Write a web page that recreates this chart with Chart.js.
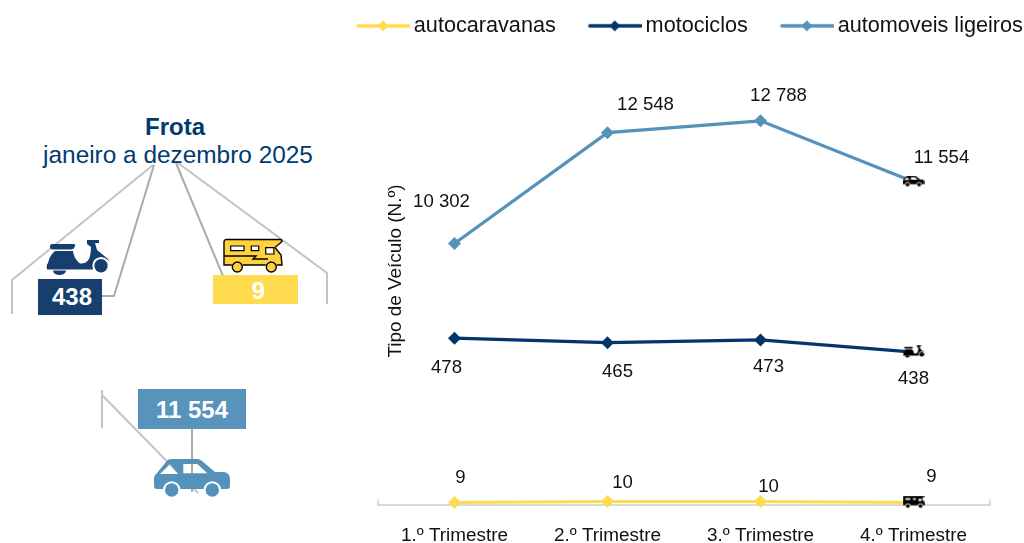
<!DOCTYPE html>
<html lang="pt">
<head>
<meta charset="utf-8">
<title>Frota</title>
<script src="https://cdn.jsdelivr.net/npm/chart.js@4"></script>
<style>
  html, body { margin: 0; padding: 0; background: #fff; overflow: hidden; }
  body { position: relative; width: 1024px; height: 543px; font-family: "Liberation Sans", Arial, sans-serif; }
  svg, canvas { position: absolute; left: 0; top: 0; }
  .t { position: absolute; text-align: center; white-space: nowrap; }
  .title { width: 350px; color: #003A70; font-size: 24.4px; line-height: 28px; }
  .box { color: #fff; font-weight: bold; font-size: 24px; display: flex; align-items: center; justify-content: center; box-sizing: border-box; }
</style>
</head>
<body>
<!-- painel esquerdo: linhas, ícones e caixas -->
<svg width="1024" height="543" viewBox="0 0 1024 543">
  <g fill="none" stroke-width="2">
    <polyline stroke="#C4C4C4" points="12,314 12,280 153,165"/>
    <polyline stroke="#ABABAB" points="154,165 114,296 102,296"/>
    <polyline stroke="#ABABAB" points="176,163 223,276"/>
    <polyline stroke="#C4C4C4" points="178,163 327,273 327,304"/>
    <polyline stroke="#C4C4C4" points="102,428 102,390"/>
    <polyline stroke="#C4C4C4" points="102,395 198,493"/>
    <polyline stroke="#ABABAB" points="192,428 192,492"/>
  </g>
  <g id="scooterBig" transform="translate(45,239)"></g>
  <g id="rvBig" transform="translate(223,239)"></g>
  <g id="carBig" transform="translate(154,459)"></g>
</svg>
<div class="t title" style="left:0;top:113px;font-weight:bold;font-size:24px">Frota</div>
<div class="t title" style="left:3px;top:141px">janeiro a dezembro 2025</div>
<div class="t box" style="left:38px;top:279px;width:64px;height:36px;padding-left:4px;background:#173F6E">438</div>
<div class="t box" style="left:213px;top:275px;width:85px;height:29px;padding-left:6px;padding-top:3px;background:#FFDC4F">9</div>
<div class="t box" style="left:138px;top:389px;width:108px;height:40px;padding-top:2px;background:#5793BB">11 554</div>
<canvas id="chart" width="1024" height="543"></canvas>
<script>
// Frota por trimestre. Cada série tem escala própria (eixo quebrado no original).
const trimestres = ['1.º Trimestre', '2.º Trimestre', '3.º Trimestre', '4.º Trimestre'];
const autocaravanas = [9, 10, 10, 9];
const motociclos = [478, 465, 473, 438];
const ligeiros = [10302, 12548, 12788, 11554];

const COR_CARAVANA = '#FFDC4F';
const COR_MOTO = '#03356C';
const COR_LIGEIRO = '#5592BA';
const FONTE = '"Liberation Sans", Arial, sans-serif';

// deslocamento (px) de cada rótulo em relação ao ponto
const OFFS_CARAVANA = [[6, -25], [15, -19], [8, -15], [18, -26]];
const OFFS_MOTO = [[-8, 30], [10, 29], [8, 27], [0, 27]];
const OFFS_LIGEIRO = [[-13, -42], [38, -28], [18, -25], [28, -24]];

// ícones: silhueta em caminho SVG, reutilizada no painel e nos pontos finais
const SCOOTER = { w: 64, h: 36,
  body: 'M7 5H28Q31 5 30 7Q29 10.5 26 10.5H8Q5 10.5 5 8Q5 5 7 5ZM10 12H28Q29 20 35 24.5Q41 25 44 20Q46 15 46 8L42 5V1H54V4H50L52 11L63 20Q64 22 63 22Q58 18 53 20Q48 24 48 30.5H2Q1 26 3 24Q4 17 10 12ZM8 31.5H21A6.5 4.5 0 0 1 8 31.5Z',
  wheels: [[56, 26.7, 6.7]] };
const RV = { w: 59, h: 34,
  body: 'M1 3Q1 .5 3.5 .5H57Q59 .5 59 2.5L52 8.5L58 16L59 26H1Z',
  wheels: [[14.3, 28, 5], [48.3, 28, 5]],
  windows: ['M7.7 7H21V11.7H7.7Z', 'M28.3 7H35.7V11.7H28.3Z', 'M42.7 8.7H50.7L51 15H42.7Z'] };
const CAR = { w: 77, h: 38,
  body: 'M0 19Q0 16 3 14L12 3Q14 0 18 0H43Q46 0 48 2L61 13H70Q76 14 76 20V27Q76 30 73 30H3Q0 30 0 27Z',
  windows: ['M6 15H24.3L16 5Z', 'M29.3 5H43.3L53.3 14.3H29.3Z'],
  wheels: [[17.7, 31, 6.7], [58.3, 31, 6.7]] };

function desenhaGrande(id, ic, cor, traco) {
  const ns = 'http://www.w3.org/2000/svg';
  const g = document.getElementById(id);
  const add = (tag, attrs) => {
    const el = document.createElementNS(ns, tag);
    Object.keys(attrs).forEach((k) => el.setAttribute(k, attrs[k]));
    g.appendChild(el);
  };
  // no carro as janelas são vazadas: as linhas cinzentas veem-se através delas
  const d = ic.body + (ic === CAR ? ic.windows.join('') : '');
  add('path', { d, fill: cor, 'fill-rule': 'evenodd', stroke: traco || 'none', 'stroke-width': 1.4 });
  if (ic !== CAR) (ic.windows || []).forEach((w) => add('path', { d: w, fill: '#fff', stroke: '#000', 'stroke-width': 1.2 }));
  if (ic === RV) add('path', { d: 'M1 17H33L30 20H45', fill: 'none', stroke: '#000', 'stroke-width': 1.4 });
  ic.wheels.forEach((w) => {
    add('circle', { cx: w[0], cy: w[1], r: w[2] + (traco ? 1 : 2), fill: '#fff' });
    add('circle', { cx: w[0], cy: w[1], r: w[2], fill: cor, stroke: traco || 'none', 'stroke-width': 1.4 });
  });
}
desenhaGrande('scooterBig', SCOOTER, '#173F6E');
desenhaGrande('rvBig', RV, '#FFD23C', '#000');
desenhaGrande('carBig', CAR, COR_LIGEIRO);

// mesma silhueta em preto, 22 px de largura, para o último ponto de cada linha
function miniIcone(ic) {
  const k = 22 / ic.w;
  const c = document.createElement('canvas');
  c.width = 22;
  c.height = Math.ceil(ic.h * k) + 1;
  const x = c.getContext('2d');
  x.scale(k, k);
  x.fillStyle = '#000';
  x.fill(new Path2D(ic.body));
  x.fillStyle = '#fff';
  (ic.windows || []).forEach((w) => x.fill(new Path2D(w)));
  ic.wheels.forEach((w) => {
    x.fillStyle = '#fff';
    x.beginPath(); x.arc(w[0], w[1], w[2] + 2, 0, Math.PI * 2); x.fill();
    x.fillStyle = '#000';
    x.beginPath(); x.arc(w[0], w[1], w[2], 0, Math.PI * 2); x.fill();
  });
  return c;
}

// amostra da legenda: linha com losango, encostada à direita da tela
function amostra(cor) {
  const c = document.createElement('canvas');
  c.width = 93; c.height = 12;
  const x = c.getContext('2d');
  x.strokeStyle = cor; x.lineWidth = 3.4; x.lineCap = 'round';
  x.beginPath(); x.moveTo(41, 6); x.lineTo(92, 6); x.stroke();
  x.fillStyle = cor;
  x.beginPath(); x.moveTo(66, 0.5); x.lineTo(71.5, 6); x.lineTo(66, 11.5); x.lineTo(60.5, 6); x.closePath(); x.fill();
  return c;
}

const fmt = (v) => String(v).replace(/\B(?=(\d{3})+$)/g, ' ');

function serie(label, data, cor, yAxisID, icone, offs) {
  return {
    label, data, yAxisID, offs,
    borderColor: cor, backgroundColor: cor, borderWidth: 3.2,
    tension: 0, clip: false,
    pointRadius: 6.5, pointHoverRadius: 6.5, pointBorderWidth: 0,
    pointStyle: ['rectRot', 'rectRot', 'rectRot', miniIcone(icone)],
  };
}

// rótulos de dados, título vertical e remates do eixo
const extras = {
  id: 'extras',
  afterDatasetsDraw(chart) {
    const { ctx, chartArea: a } = chart;
    ctx.save();
    ctx.strokeStyle = '#D9D9D9'; ctx.lineWidth = 2;
    [a.left, a.right].forEach((x) => {
      ctx.beginPath(); ctx.moveTo(x, a.bottom); ctx.lineTo(x, a.bottom - 5); ctx.stroke();
    });
    ctx.fillStyle = '#111';
    ctx.font = `18.6px ${FONTE}`;
    ctx.textAlign = 'center'; ctx.textBaseline = 'middle';
    chart.data.datasets.forEach((ds, i) => {
      chart.getDatasetMeta(i).data.forEach((pt, j) => {
        ctx.fillText(fmt(ds.data[j]), pt.x + ds.offs[j][0], pt.y + ds.offs[j][1]);
      });
    });
    ctx.font = `18.9px ${FONTE}`;
    ctx.translate(396, 271);
    ctx.rotate(-Math.PI / 2);
    ctx.fillText('Tipo de Veículo (N.º)', 0, 0);
    ctx.restore();
  },
};

const oculto = { ticks: { display: false }, grid: { display: false }, border: { display: false } };

new Chart(document.getElementById('chart'), {
  type: 'line',
  data: {
    labels: trimestres,
    datasets: [
      serie('autocaravanas', autocaravanas, COR_CARAVANA, 'yCaravana', RV, OFFS_CARAVANA),
      serie('motociclos', motociclos, COR_MOTO, 'yMoto', SCOOTER, OFFS_MOTO),
      serie('automoveis ligeiros', ligeiros, COR_LIGEIRO, 'yLigeiro', CAR, OFFS_LIGEIRO),
    ],
  },
  plugins: [extras],
  options: {
    responsive: false, animation: false,
    layout: { padding: { left: 324, top: 15 } },
    plugins: {
      tooltip: { enabled: false },
      legend: {
        position: 'top', align: 'start',
        labels: {
          usePointStyle: true, pointStyleWidth: 79, padding: 0, color: '#111',
          font: { family: FONTE, size: 21.65 },
          generateLabels: (chart) => chart.data.datasets.map((ds, i) => ({
            text: ds.label, datasetIndex: i, hidden: false, lineWidth: 0,
            fontColor: '#111', pointStyle: amostra(ds.borderColor),
          })),
        },
      },
    },
    scales: {
      x: {
        offset: true,
        afterFit: (s) => { s.height = 38.5; },
        grid: { display: false },
        border: { color: '#D9D9D9', width: 2 },
        ticks: { padding: 12, maxRotation: 0, color: '#111', font: { family: FONTE, size: 18.9 } },
      },
      yLigeiro: {
        ...oculto, position: 'left', min: 5009, max: 14292,
        afterFit: (s) => { s.width = 54; },
      },
      yMoto: { display: false, min: 1, max: 1314 },
      yCaravana: {
        ...oculto, position: 'right', min: 7, max: 466.5,
        afterFit: (s) => { s.width = 34; },
      },
    },
  },
});
</script>
</body>
</html>
